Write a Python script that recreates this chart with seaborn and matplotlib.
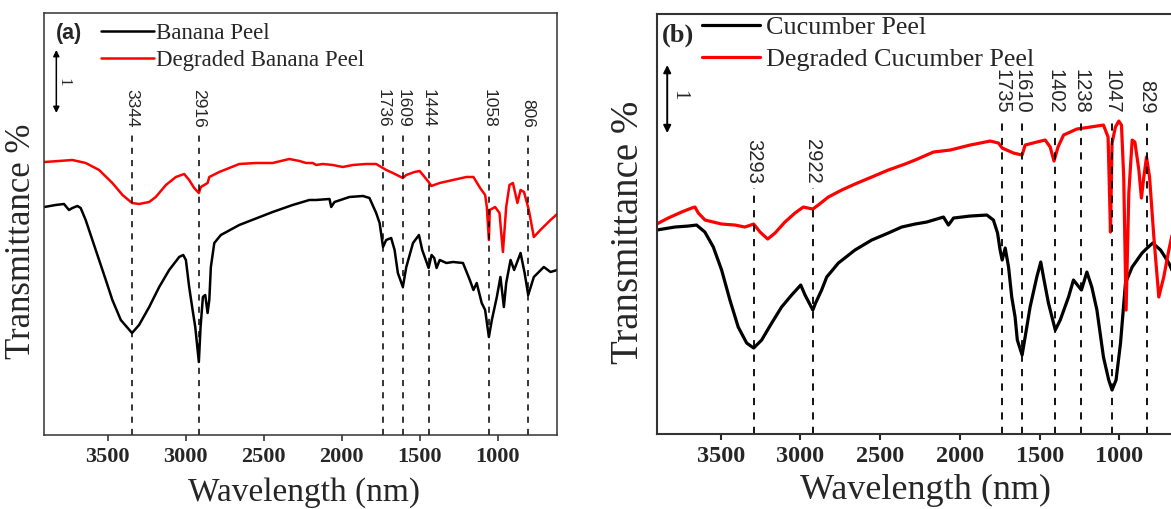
import numpy as np
import pandas as pd
import matplotlib
matplotlib.use('Agg')
import matplotlib.pyplot as plt
import seaborn as sns

sns.set_style('ticks')
plt.rcParams['font.family'] = ['Liberation Serif', 'DejaVu Serif']

# (a) banana peel, transmittance in arbitrary units
banana_wn = [3905, 3833, 3780, 3748, 3726, 3694, 3673, 3641, 3598, 3555, 3512, 3470, 3416, 3344,
             3299, 3234, 3170, 3106, 3042, 3016, 2999, 2978, 2956, 2939, 2916, 2905, 2890, 2875,
             2860, 2849, 2839, 2817, 2775, 2657, 2443, 2315, 2208, 2165, 2079, 2068, 2047, 1951,
             1865, 1823, 1780, 1758, 1736, 1716, 1684, 1662, 1641, 1609, 1587, 1544, 1506, 1485,
             1444, 1425, 1408, 1393, 1373, 1330, 1288, 1224, 1180, 1157, 1136, 1104, 1082, 1058,
             1039, 1007, 984, 962, 947, 919, 896, 855, 829, 806, 770, 706, 663, 620]
banana_t = [229, 231, 232, 226, 228, 230, 228, 216, 196, 176, 156, 136, 116, 103,
            111, 129, 149, 166, 179, 181, 176, 149, 126, 109, 74, 109, 139, 141,
            123, 136, 169, 193, 201, 211, 224, 231, 236, 236, 237, 229, 234, 239,
            240, 238, 223, 213, 189, 196, 198, 186, 163, 149, 169, 193, 201, 186,
            168, 181, 178, 168, 176, 173, 174, 173, 156, 146, 153, 133, 126, 99,
            116, 139, 159, 129, 153, 176, 166, 183, 163, 141, 159, 169, 164, 166]

banana_deg_wn = [3905, 3812, 3726, 3641, 3555, 3470, 3405, 3344, 3299, 3234, 3192, 3127, 3063, 3010,
                 2978, 2946, 2916, 2903, 2860, 2849, 2785, 2657, 2550, 2443, 2336, 2272, 2229, 2186,
                 2165, 2122, 2058, 1994, 1929, 1844, 1780, 1748, 1715, 1673, 1609, 1587, 1534, 1502,
                 1480, 1444, 1427, 1373, 1288, 1202, 1157, 1114, 1082, 1071, 1058, 1052, 1018, 990,
                 968, 947, 926, 904, 875, 855, 833, 802, 770, 728, 663, 620]
banana_deg_t = [274, 275, 276, 273, 266, 253, 241, 233, 232, 234, 239, 251, 259, 262,
                256, 248, 243, 249, 253, 259, 264, 272, 273, 273, 277, 275, 273, 273,
                271, 272, 271, 269, 271, 272, 272, 269, 266, 263, 258, 261, 264, 265,
                261, 254, 250, 253, 256, 259, 259, 248, 241, 229, 196, 226, 229, 223,
                184, 229, 251, 253, 233, 246, 244, 226, 199, 206, 216, 222]

# (b) cucumber peel
cucumber_wn = [3901, 3787, 3703, 3651, 3599, 3546, 3494, 3442, 3390, 3337, 3293, 3243, 3180, 3118,
               3055, 2998, 2971, 2922, 2905, 2867, 2835, 2762, 2658, 2553, 2449, 2365, 2281, 2208,
               2103, 2072, 2040, 1936, 1831, 1790, 1764, 1748, 1735, 1716, 1695, 1675, 1654, 1640,
               1610, 1591, 1560, 1518, 1493, 1476, 1445, 1402, 1371, 1319, 1288, 1238, 1204, 1173,
               1141, 1100, 1067, 1046, 1021, 993, 962, 920, 858, 826, 791, 742, 690, 663, 640, 620]
cucumber_t = [204, 207, 208, 209, 202, 187, 164, 134, 107, 91, 86, 94, 111, 127,
              139, 149, 139, 124, 131, 144, 157, 171, 184, 194, 201, 207, 210, 212,
              217, 209, 216, 218, 219, 214, 201, 184, 174, 186, 167, 137, 117, 94,
              79, 97, 127, 157, 172, 157, 131, 104, 114, 137, 154, 144, 162, 147,
              124, 77, 54, 44, 54, 91, 151, 167, 181, 186, 191, 184, 171, 161, 156, 152]

cucumber_deg_wn = [3901, 3829, 3745, 3682, 3661, 3640, 3598, 3494, 3410, 3348, 3293, 3253, 3205, 3159,
                   3097, 3034, 2982, 2922, 2888, 2825, 2741, 2658, 2553, 2449, 2344, 2281, 2166, 2061,
                   1936, 1810, 1758, 1735, 1664, 1610, 1591, 1518, 1465, 1434, 1410, 1385, 1350, 1267,
                   1183, 1100, 1071, 1062, 1056, 1046, 1025, 1004, 987, 973, 958, 941, 920, 903,
                   878, 862, 847, 830, 811, 784, 753, 722, 690, 663, 640, 620]
cucumber_deg_t = [210, 216, 222, 226, 227, 221, 214, 210, 209, 207, 210, 202, 195, 201,
                  212, 221, 227, 225, 229, 237, 244, 250, 257, 264, 270, 274, 282, 284,
                  289, 293, 291, 286, 281, 279, 289, 292, 294, 287, 273, 287, 299, 305,
                  307, 309, 297, 241, 202, 291, 307, 313, 309, 257, 124, 241, 294, 292,
                  264, 236, 257, 277, 257, 197, 137, 157, 184, 204, 215, 222]

banana_peaks = [3344, 2916, 1736, 1609, 1444, 1058, 806]
cucumber_peaks_oh = [3293, 2922]
cucumber_peaks_fp = [1735, 1610, 1402, 1238, 1047, 829]


def spectrum(wn, t, name):
    return pd.DataFrame({'wavenumber': wn, 'transmittance': t, 'sample': name})


def draw_panel(ax, frames, names, xlim, ylim, lw):
    df = pd.concat(frames, ignore_index=True)
    sns.lineplot(data=df, x='wavenumber', y='transmittance', hue='sample',
                 hue_order=names, palette=['black', 'red'], estimator=None,
                 sort=True, lw=lw, ax=ax)
    ax.set_xlim(*xlim)
    ax.set_ylim(*ylim)
    ax.set_xticks([3500, 3000, 2500, 2000, 1500, 1000])
    ax.set_yticks([])
    ax.set_xlabel('')
    ax.set_ylabel('')


fig = plt.figure(figsize=(11.71, 5.09), dpi=100)
ax_a = fig.add_axes([0.03757, 0.1454, 0.4383, 0.8281])
ax_b = fig.add_axes([0.5608, 0.1473, 0.4469, 0.8251])

draw_panel(ax_a, [spectrum(banana_wn, banana_t, 'Banana Peel'),
                  spectrum(banana_deg_wn, banana_deg_t, 'Degraded Banana Peel')],
           ['Banana Peel', 'Degraded Banana Peel'], (3908, 620), (1, 422.5), 1.8)
draw_panel(ax_b, [spectrum(cucumber_wn, cucumber_t, 'Cucumber Peel'),
                  spectrum(cucumber_deg_wn, cucumber_deg_t, 'Degraded Cucumber Peel')],
           ['Cucumber Peel', 'Degraded Cucumber Peel'], (3901, 620), (0, 420), 2.3)

# peak markers
ax_a.vlines(banana_peaks, 1, 306, colors='black', linestyles=(0, (4, 4)), lw=1.1)
for p in banana_peaks:
    ax_a.text(p, 308, str(p), rotation=-90, ha='center', va='bottom',
              family='Liberation Sans', fontsize=12.5)
ax_b.vlines(cucumber_peaks_oh, 0, 246, colors='black', linestyles=(0, (4, 4)), lw=1.3)
ax_b.vlines(cucumber_peaks_fp, 0, 317, colors='black', linestyles=(0, (4, 4)), lw=1.3)
for p in cucumber_peaks_oh:
    ax_b.text(p, 250, str(p), rotation=-90, ha='center', va='bottom',
              family='Liberation Sans', fontsize=14.5)
for p in cucumber_peaks_fp:
    ax_b.text(p, 320, str(p), rotation=-90, ha='center', va='bottom',
              family='Liberation Sans', fontsize=14.5)

# scale arrows
ax_a.annotate('', xy=(3829, 386), xytext=(3829, 323),
              arrowprops=dict(arrowstyle='<|-|>', color='black', lw=1.1,
                              mutation_scale=9, shrinkA=0, shrinkB=0))
ax_a.text(3780, 354, '1', rotation=-90, ha='center', va='center', fontsize=12)
ax_b.annotate('', xy=(3835, 369), xytext=(3835, 301),
              arrowprops=dict(arrowstyle='<|-|>', color='black', lw=1.4,
                              mutation_scale=11, shrinkA=0, shrinkB=0))
ax_b.text(3766, 339, '1', rotation=-90, ha='center', va='center', fontsize=15)

# legends and panel letters
h, l = ax_a.get_legend_handles_labels()
ax_a.legend(h, l, loc='upper left', bbox_to_anchor=(0.111, 0.978), frameon=False,
            borderpad=0, borderaxespad=0, handlelength=2.3, handletextpad=0.12,
            labelspacing=0.25, fontsize=16.5)
h, l = ax_b.get_legend_handles_labels()
ax_b.legend(h, l, loc='upper left', bbox_to_anchor=(0.086, 0.996), frameon=False,
            borderpad=0, borderaxespad=0, handlelength=2.25, handletextpad=0.2,
            labelspacing=0.32, fontsize=18.8)
ax_a.text(0.0234, 0.9526, '(a)', transform=ax_a.transAxes, ha='left', va='center',
          family='Liberation Sans', fontweight='bold', fontsize=15.5)
ax_b.text(0.010, 0.950, '(b)', transform=ax_b.transAxes, ha='left', va='center',
          fontweight='bold', fontsize=19)

for ax, lab_size, lw in [(ax_a, 16, 1.1), (ax_b, 17.5, 1.5)]:
    for s in ax.spines.values():
        s.set_linewidth(lw)
        s.set_color('#333333')
    ax.tick_params(axis='x', direction='out', length=4.5, width=lw, pad=4,
                   labelsize=lab_size)
    for t in ax.get_xticklabels():
        t.set_fontweight('bold')

fig.text(22 / 1171, 1 - 241 / 509, 'Transmittance %', rotation=90, ha='center',
         va='center', fontsize=25)
fig.text(629 / 1171, 1 - 232 / 509, 'Transmittance %', rotation=90, ha='center',
         va='center', fontsize=28)
fig.text(304 / 1171, 1 - 501 / 509, 'Wavelength (nm)', ha='center', va='baseline',
         fontsize=24)
fig.text(925 / 1171, 1 - 499 / 509, 'Wavelength (nm)', ha='center', va='baseline',
         fontsize=26)

fig.savefig('out.png', dpi=100)
